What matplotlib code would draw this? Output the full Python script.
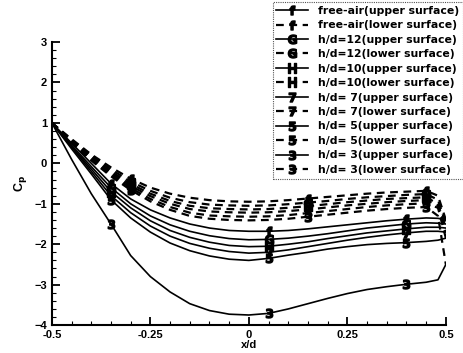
import matplotlib

matplotlib.use("Agg")
import matplotlib.pyplot as plt  # noqa: E402
from matplotlib.ticker import MultipleLocator  # noqa: E402

# chordwise stations x/d
x_d = [-0.5, -0.45, -0.4, -0.35, -0.3, -0.25, -0.2, -0.15, -0.1, -0.05, 0.0,
       0.05, 0.1, 0.15, 0.2, 0.25, 0.3, 0.35, 0.4, 0.45, 0.48, 0.5]

# upper surface Cp
cp_free_up = [1.0, 0.5, 0.0, -0.5, -0.88, -1.15, -1.35, -1.5, -1.6, -1.66, -1.68,
              -1.68, -1.66, -1.62, -1.57, -1.52, -1.47, -1.42, -1.38, -1.35, -1.36, -1.4]
cp_h12_up = [1.0, 0.45, -0.08, -0.6, -1.0, -1.3, -1.52, -1.68, -1.79, -1.86, -1.89,
             -1.88, -1.85, -1.8, -1.74, -1.67, -1.6, -1.55, -1.5, -1.47, -1.48, -1.5]
cp_h10_up = [1.0, 0.42, -0.14, -0.7, -1.1, -1.42, -1.66, -1.83, -1.95, -2.03, -2.06,
             -2.05, -2.0, -1.94, -1.86, -1.79, -1.72, -1.67, -1.62, -1.58, -1.58, -1.6]
cp_h7_up = [1.0, 0.4, -0.2, -0.8, -1.22, -1.55, -1.8, -1.98, -2.1, -2.18, -2.22,
            -2.2, -2.14, -2.06, -1.98, -1.9, -1.83, -1.77, -1.72, -1.68, -1.68, -1.7]
cp_h5_up = [1.0, 0.36, -0.26, -0.9, -1.35, -1.7, -1.97, -2.16, -2.29, -2.37, -2.4,
            -2.35, -2.27, -2.2, -2.12, -2.06, -2.01, -1.98, -1.96, -1.93, -1.9, -1.85]
cp_h3_up = [1.0, 0.1, -0.75, -1.5, -2.28, -2.8, -3.18, -3.47, -3.64, -3.73, -3.75,
            -3.71, -3.6, -3.47, -3.34, -3.22, -3.12, -3.05, -2.99, -2.94, -2.88, -2.5]

# lower surface Cp
cp_free_lo = [1.0, 0.6, 0.22, -0.1, -0.38, -0.6, -0.75, -0.85, -0.91, -0.94, -0.95,
              -0.94, -0.91, -0.87, -0.83, -0.79, -0.75, -0.72, -0.7, -0.68, -0.8, -1.4]
cp_h12_lo = [1.0, 0.58, 0.19, -0.15, -0.45, -0.68, -0.85, -0.96, -1.02, -1.04, -1.05,
             -1.04, -1.01, -0.97, -0.93, -0.88, -0.84, -0.81, -0.78, -0.76, -0.9, -1.5]
cp_h10_lo = [1.0, 0.56, 0.16, -0.2, -0.51, -0.75, -0.93, -1.05, -1.11, -1.13, -1.14,
             -1.13, -1.1, -1.06, -1.01, -0.96, -0.92, -0.88, -0.86, -0.84, -1.0, -1.6]
cp_h7_lo = [1.0, 0.54, 0.13, -0.24, -0.56, -0.81, -1.0, -1.13, -1.19, -1.21, -1.22,
            -1.21, -1.18, -1.14, -1.09, -1.04, -1.0, -0.96, -0.93, -0.91, -1.05, -1.7]
cp_h5_lo = [1.0, 0.52, 0.1, -0.28, -0.61, -0.88, -1.08, -1.22, -1.29, -1.31, -1.32,
            -1.31, -1.28, -1.23, -1.18, -1.13, -1.08, -1.04, -1.01, -0.99, -1.1, -1.85]
cp_h3_lo = [1.0, 0.5, 0.07, -0.32, -0.66, -0.94, -1.15, -1.3, -1.37, -1.4, -1.41,
            -1.4, -1.37, -1.32, -1.27, -1.22, -1.17, -1.13, -1.1, -1.08, -1.3, -2.5]

series = [
    ("f", "free-air", cp_free_up, cp_free_lo),
    ("G", "h/d=12", cp_h12_up, cp_h12_lo),
    ("H", "h/d=10", cp_h10_up, cp_h10_lo),
    ("7", "h/d= 7", cp_h7_up, cp_h7_lo),
    ("5", "h/d= 5", cp_h5_up, cp_h5_lo),
    ("3", "h/d= 3", cp_h3_up, cp_h3_lo),
]

plt.rcParams.update({
    "font.family": ["Liberation Sans", "DejaVu Sans"],
    "font.weight": "bold",
    "xtick.direction": "in",
    "ytick.direction": "in",
})

fig = plt.figure(figsize=(4.63, 3.53), dpi=100)
ax = fig.add_axes([0.112, 0.079, 0.851, 0.802])

handles = []
for sym, name, up, lo in series:
    mk = "$\\mathsf{%s}$" % sym
    h1, = ax.plot(x_d, up, color="black", lw=1.2, ls="-", marker=mk,
                  markersize=6.5, markevery=[3, 11, 18],
                  label="%s(upper surface)" % name)
    h2, = ax.plot(x_d, lo, color="black", lw=1.6, ls=(0, (3.5, 2.5)), marker=mk,
                  markersize=6.5, markevery=[4, 13, 19],
                  label="%s(lower surface)" % name)
    handles += [h1, h2]

ax.set_xlim(-0.5, 0.5)
ax.set_ylim(-4, 3)
ax.set_xticks([-0.5, -0.25, 0, 0.25, 0.5])
ax.set_xticklabels(["-0.5", "-0.25", "0", "0.25", "0.5"])
ax.xaxis.set_minor_locator(MultipleLocator(0.05))
ax.yaxis.set_major_locator(MultipleLocator(1))
ax.yaxis.set_minor_locator(MultipleLocator(0.2))
ax.tick_params(which="major", length=6, width=1.3, labelsize=8)
ax.tick_params(which="minor", length=3, width=0.8)
for s in ["top", "right"]:
    ax.spines[s].set_visible(False)
for s in ["left", "bottom"]:
    ax.spines[s].set_linewidth(1.5)

ax.set_xlabel("x/d", fontsize=8, fontweight="bold", labelpad=0)
ax.set_ylabel("C$_\\mathbf{p}$", fontsize=9, fontweight="bold", labelpad=4)

leg = fig.legend(handles=handles, loc="upper right",
                 bbox_to_anchor=(0.999, 0.994),
                 prop={"family": "DejaVu Sans", "weight": "bold", "size": 7.8},
                 handlelength=2.9, handletextpad=0.9, labelspacing=0.41,
                 borderpad=0.35, borderaxespad=0.0, fancybox=False,
                 framealpha=1, edgecolor="#555555", numpoints=1)
leg.get_frame().set_linewidth(0.8)
leg.get_frame().set_linestyle((0, (1, 1)))

fig.savefig("out.png", dpi=100)
